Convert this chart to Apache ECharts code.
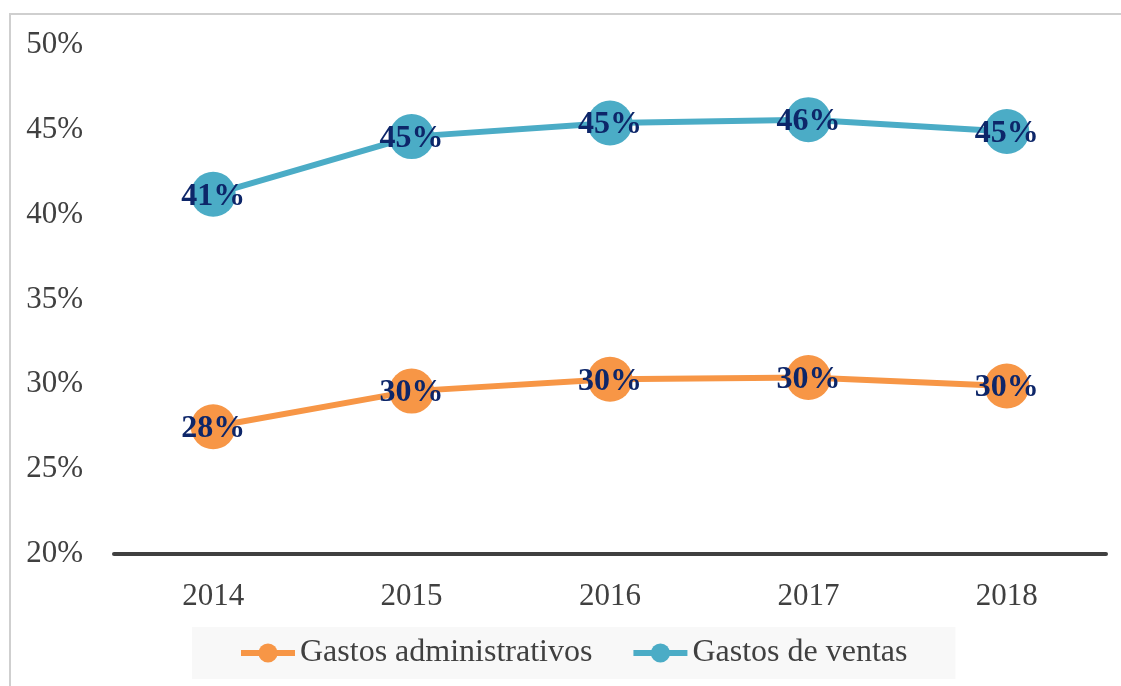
<!DOCTYPE html>
<html>
<head>
    <meta charset="utf-8">
    <title>Gastos</title>
    <script src="https://cdn.jsdelivr.net/npm/echarts@6/dist/echarts.min.js"></script>
    <style>
        html, body { margin: 0; padding: 0; background: #fff; }
    </style>
</head>
<body>

<div id="main" style="width: 1121px;height:686px;"></div>

<script type="text/javascript">

    // datos
    var years = ['2014', '2015', '2016', '2017', '2018'];
    var gastosAdmin = [27.5, 29.6, 30.3, 30.4, 29.9];
    var gastosVentas = [41.2, 44.6, 45.4, 45.6, 44.9];
    var seriesNames = ['Gastos administrativos', 'Gastos de ventas'];

    var serif = '"Liberation Serif", "Times New Roman", serif';

    var myChart = echarts.init(document.getElementById('main'));

    var labelStyle = {
        show: true,
        position: 'inside',
        formatter: function (p) { return Math.round(p.value) + '%'; },
        fontFamily: serif,
        fontWeight: 'bold',
        fontSize: 32,
        color: '#0d2669',
        offset: [0, 2]
    };

    myChart.setOption({
        animation: false,
        graphic: [{
            type: 'rect',
            shape: { x: 10, y: 14, width: 1200, height: 700 },
            style: { fill: 'none', stroke: '#cfcfcf', lineWidth: 2 },
            z: -1
        }],
        legend: {
            data: seriesNames,
            left: 192,
            top: 627,
            padding: [10, 48, 10, 46],
            backgroundColor: '#f8f8f8',
            itemWidth: 54,
            itemHeight: 24,
            itemGap: 38,
            lineStyle: { width: 6 },
            textStyle: {
                fontFamily: serif,
                fontSize: 32,
                color: '#404040'
            }
        },
        grid: {
            left: 114,
            right: 15,
            top: 45,
            bottom: 132
        },
        xAxis: {
            type: 'category',
            data: years,
            axisLine: { lineStyle: { color: '#404040', width: 4 } },
            axisTick: { show: false },
            axisLabel: {
                margin: 27,
                fontFamily: serif,
                fontSize: 31,
                color: '#404040'
            }
        },
        yAxis: {
            type: 'value',
            min: 20,
            max: 50,
            interval: 5,
            splitLine: { show: false },
            axisLine: { show: false },
            axisLabel: {
                margin: 31,
                formatter: '{value}%',
                fontFamily: serif,
                fontSize: 31,
                color: '#404040'
            }
        },
        series: [
            {
                name: seriesNames[0],
                type: 'line',
                data: gastosAdmin,
                symbol: 'circle',
                symbolSize: 45,
                color: '#f79646',
                lineStyle: { width: 6, color: '#f79646' },
                itemStyle: { color: '#f79646' },
                label: labelStyle
            },
            {
                name: seriesNames[1],
                type: 'line',
                data: gastosVentas,
                symbol: 'circle',
                symbolSize: 45,
                color: '#4bacc6',
                lineStyle: { width: 6, color: '#4bacc6' },
                itemStyle: { color: '#4bacc6' },
                label: labelStyle
            }
        ]
    });

</script>
</body>
</html>
